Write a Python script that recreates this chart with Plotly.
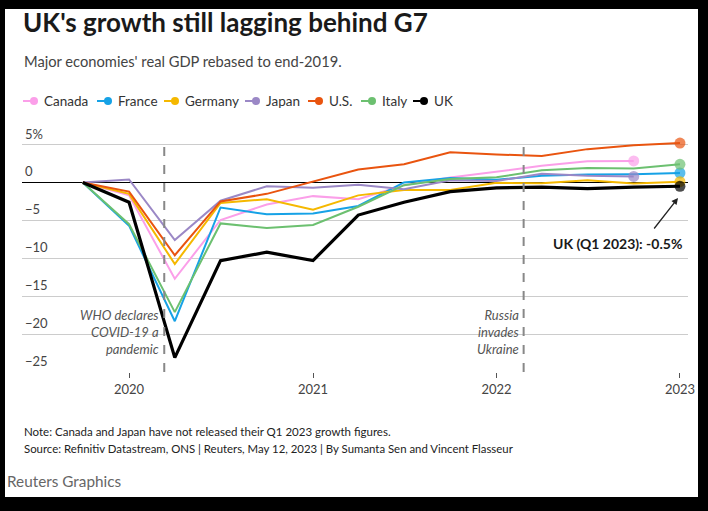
import plotly.graph_objects as go

# quarterly GDP, % change vs Q4 2019
dates = ['2019-10-01', '2020-01-01', '2020-04-01', '2020-07-01', '2020-10-01',
         '2021-01-01', '2021-04-01', '2021-07-01', '2021-10-01',
         '2022-01-01', '2022-04-01', '2022-07-01', '2022-10-01', '2023-01-01']

canada = [0, -1.7, -12.7, -4.95, -2.9, -1.8, -2.2, -0.35, 0.65, 1.4, 2.2, 2.8, 2.85, None]
france = [0, -5.7, -18.3, -3.3, -4.2, -4.1, -3.1, 0.0, 0.6, 0.35, 0.9, 1.05, 1.1, 1.25]
germany = [0, -1.5, -10.75, -2.7, -2.2, -3.6, -1.7, -1.0, -1.0, -0.05, -0.1, 0.3, -0.15, 0.1]
japan = [0, 0.4, -7.6, -2.4, -0.5, -0.7, -0.3, -0.9, 0.3, 0.2, 1.15, 0.9, 0.8, None]
us = [0, -1.2, -9.6, -2.5, -1.5, 0.1, 1.7, 2.4, 4.0, 3.7, 3.5, 4.4, 4.9, 5.2]
italy = [0, -5.5, -17.1, -5.4, -6.0, -5.6, -3.2, -0.35, 0.45, 0.7, 1.6, 1.9, 1.85, 2.4]
uk = [0, -2.6, -23.1, -10.3, -9.2, -10.3, -4.3, -2.6, -1.2, -0.7, -0.6, -0.8, -0.6, -0.5]

names = ['Canada', 'France', 'Germany', 'Japan', 'U.S.', 'Italy', 'UK']
series = [canada, france, germany, japan, us, italy, uk]
colors = ['#fb9fe9', '#16a2e6', '#f5b800', '#9b88c6', '#e9540f', '#6cc070', '#000000']

y_ticks = [5, 0, -5, -10, -15, -20, -25]
y_tick_text = ['5%', '0', '\u22125', '\u221210', '\u221215', '\u221220', '\u221225']

events = [('2020-03-11', 'WHO declares<br>COVID-19 a<br>pandemic'),
          ('2022-02-24', 'Russia<br>invades<br>Ukraine')]

FONT = 'Lato'
W, H = 708, 511
L, R, T, B = 22, 20, 137, 139


def px(x):
    return (x - L) / (W - L - R)


def py(y):
    return (H - B - y) / (H - T - B)


fig = go.Figure()
for name, vals, col in zip(names, series, colors):
    last = max(i for i, v in enumerate(vals) if v is not None)
    sizes = [0] * len(vals)
    sizes[last] = 11
    fig.add_trace(go.Scatter(
        x=dates, y=vals, name=name, mode='lines+markers',
        line=dict(color=col, width=3.2 if name == 'UK' else 2),
        marker=dict(size=sizes, color=col, line=dict(width=0)),
        showlegend=False,
    ))

shapes = []
# white card on the black surround
shapes.append(dict(type='rect', xref='paper', yref='paper', layer='below',
                   x0=px(5), x1=px(698), y0=py(497), y1=py(9),
                   fillcolor='white', line=dict(width=0)))
for d, _ in events:
    shapes.append(dict(type='line', xref='x', yref='y', x0=d, x1=d, y0=-25, y1=5.8,
                       line=dict(color='#888888', width=2, dash='dash')))

annotations = []
for v, t in zip(y_ticks, y_tick_text):
    annotations.append(dict(xref='paper', yref='y', x=px(23), y=v, text=t,
                            xanchor='left', yanchor='bottom', yshift=1, showarrow=False,
                            font=dict(family=FONT, size=13, color='#444')))
for d, t in events:
    annotations.append(dict(xref='x', yref='y', x=d, y=-19.7, text='<i>' + t + '</i>',
                            xanchor='right', yanchor='middle', xshift=-3, align='right',
                            showarrow=False,
                            font=dict(family=FONT, size=13, color='#555')))

# legend drawn by hand to keep it compact
leg_x = [23, 97, 164, 245, 308, 361, 413]
for lx, name, col in zip(leg_x, names, colors):
    shapes.append(dict(type='line', xref='paper', yref='paper',
                       x0=px(lx), x1=px(lx + 10), y0=py(101), y1=py(101),
                       line=dict(color=col, width=2)))
    shapes.append(dict(type='circle', xref='paper', yref='paper',
                       x0=px(lx + 7), x1=px(lx + 15), y0=py(105), y1=py(97),
                       fillcolor=col, line=dict(width=0)))
    annotations.append(dict(xref='paper', yref='paper', x=px(lx + 19), y=py(101),
                            text=name, xanchor='left', yanchor='middle', showarrow=False,
                            font=dict(family=FONT, size=13.5, color='#333')))

annotations += [
    dict(xref='paper', yref='paper', x=px(21), y=py(22), text='<b>UK\'s growth still lagging behind G7</b>',
         xanchor='left', yanchor='middle', showarrow=False,
         font=dict(family=FONT, size=26, color='#1a1a1a')),
    dict(xref='paper', yref='paper', x=px(22), y=py(61), text="Major economies' real GDP rebased to end-2019.",
         xanchor='left', yanchor='middle', showarrow=False,
         font=dict(family=FONT, size=14.7, color='#444')),
    # pointer from the label up to the UK end value
    dict(xref='paper', yref='paper', x=px(678), y=py(198), text='', showarrow=True,
         axref='pixel', ayref='pixel', ax=-25, ay=32, arrowhead=2, arrowsize=1,
         arrowwidth=1.3, arrowcolor='#222', standoff=0),
    dict(xref='paper', yref='paper', x=px(684), y=py(243), text='<b>UK (Q1 2023): -0.5%</b>',
         xanchor='right', yanchor='middle', showarrow=False,
         font=dict(family=FONT, size=14, color='#1a1a1a')),
    dict(xref='paper', yref='paper', x=px(22), y=py(431),
         text='Note: Canada and Japan have not released their Q1 2023 growth figures.',
         xanchor='left', yanchor='middle', showarrow=False,
         font=dict(family=FONT, size=11.5, color='#222')),
    dict(xref='paper', yref='paper', x=px(22), y=py(448),
         text='Source: Refinitiv Datastream, ONS | Reuters, May 12, 2023 | By Sumanta Sen and Vincent Flasseur',
         xanchor='left', yanchor='middle', showarrow=False,
         font=dict(family=FONT, size=11.4, color='#222')),
    dict(xref='paper', yref='paper', x=px(5), y=py(481), text='Reuters Graphics',
         xanchor='left', yanchor='middle', showarrow=False,
         font=dict(family=FONT, size=15.3, color='#666')),
]

fig.update_layout(
    width=W, height=H,
    margin=dict(l=L, r=R, t=T, b=B),
    paper_bgcolor='black', plot_bgcolor='rgba(0,0,0,0)',
    shapes=shapes, annotations=annotations,
    font=dict(family=FONT, color='#444'),
    xaxis=dict(type='date', range=['2019-06-02', '2023-01-17'],
               tickvals=['2020-01-01', '2021-01-01', '2022-01-01', '2023-01-01'],
               ticktext=['2020', '2021', '2022', '2023'],
               ticks='outside', ticklen=5, tickcolor='#555', tickwidth=1,
               showgrid=False, zeroline=False, showline=False,
               tickfont=dict(family=FONT, size=13, color='#444')),
    yaxis=dict(range=[-25, 6], tickvals=y_ticks, showticklabels=False,
               showgrid=True, gridcolor='#cccccc', gridwidth=1,
               zeroline=True, zerolinecolor='#000000', zerolinewidth=1,
               showline=False, ticks=''),
)

# page body has a default margin; drop it so the figure fills the window
fig.write_html("out.html", config={'displayModeBar': False},
               post_script="document.body.style.margin='0';document.body.style.background='black';")
